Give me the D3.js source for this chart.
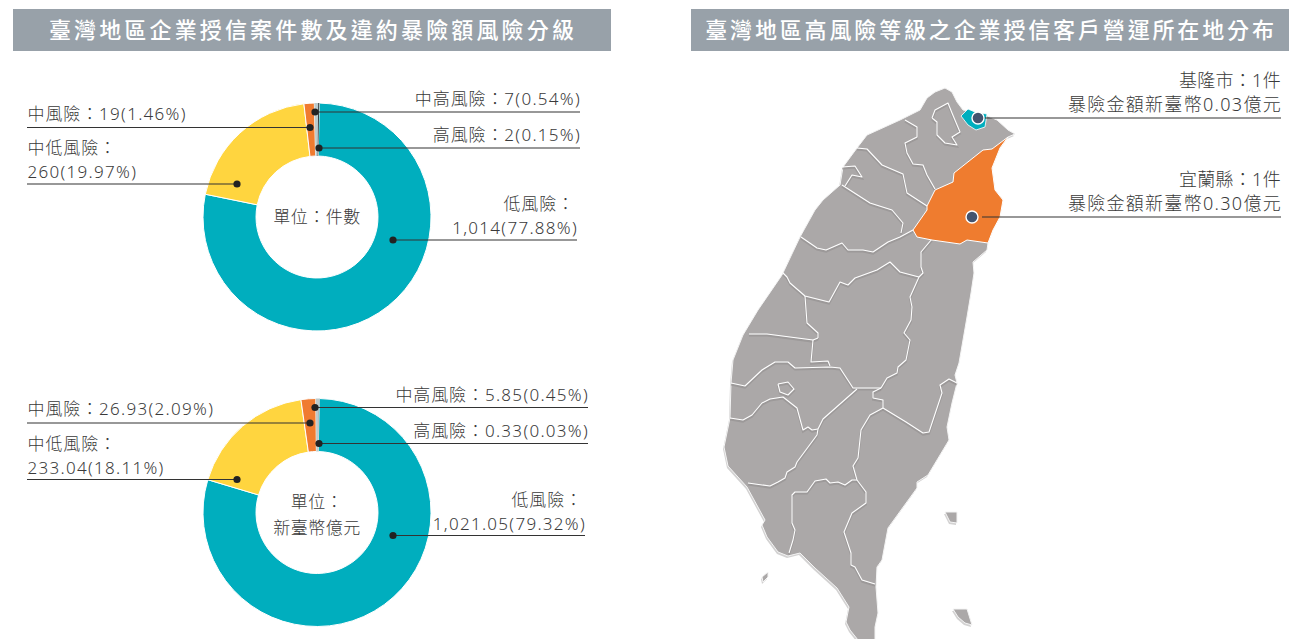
<!DOCTYPE html>
<html lang="zh-Hant">
<head>
<meta charset="utf-8">
<title>臺灣地區企業授信風險分級</title>
<script src="https://d3js.org/d3.v7.min.js"></script>
<style>
html, body { margin: 0; padding: 0; background: #fff; }
svg { display: block; font-family: "Noto Sans", "Noto Sans CJK TC", sans-serif; }
.lab { font-size: 17px; font-weight: 300; fill: #3a3a3a; letter-spacing: 0.9px; }
.lab .num { letter-spacing: 1.3px; }
.center { letter-spacing: 0.5px; }
.maplab { font-size: 18px; letter-spacing: 0.3px; }
.maplab2 { font-size: 18px; letter-spacing: 1.3px; }
.hdr { font-family: "Noto Sans CJK TC", sans-serif; font-size: 22px; font-weight: 500; fill: #fff; }
.leader { stroke: #333; stroke-width: 1.2; }
</style>
</head>
<body>
<div id="container"></div>
<script>
// values
var riskLevels = ["低風險", "中低風險", "中風險", "中高風險", "高風險"];
var riskColors = ["#00aebe", "#ffd53f", "#f07b30", "#bccbcd", "#2f3a3d"];
var caseCounts = [1014, 260, 19, 7, 2];
var casePercents = [77.88, 19.97, 1.46, 0.54, 0.15];
var exposureAmounts = [1021.05, 233.04, 26.93, 5.85, 0.33];
var exposurePercents = [79.32, 18.11, 2.09, 0.45, 0.03];

var titles = ["臺灣地區企業授信案件數及違約暴險額風險分級", "臺灣地區高風險等級之企業授信客戶營運所在地分布"];
var mapCounties = ["基隆市", "宜蘭縣"];
var mapCases = [1, 1];
var mapExposure = [0.03, 0.30];

// map outlines, traced in map grid units
var taiwanOutline = [[945,88],[952,92],[957,102],[963,110],[985,115],[997,120],[1008,130],[1015,134],[1008,137],[1000,148],[992,168],[995,190],[1003,200],[1000,217],[993,230],[988,243],[987,250],[973,262],[974,273],[971,293],[967,317],[963,340],[959,363],[955,375],[957,383],[952,403],[947,427],[949,440],[928,475],[917,482],[917,488],[888,528],[882,560],[877,567],[876,587],[878,613],[875,627],[875,645],[862,645],[850,630],[846,622],[849,607],[837,588],[815,568],[800,553],[788,556],[778,552],[767,537],[762,525],[765,520],[747,487],[728,466],[724,447],[730,418],[731,383],[733,360],[743,335],[758,310],[782,275],[800,237],[815,210],[823,200],[840,185],[843,167],[857,148],[867,135],[900,120],[920,110],[927,98],[935,92]];
var yilanOutline = [[1008,137],[1000,148],[992,168],[995,190],[1003,200],[1000,217],[993,230],[988,243],[967,240],[960,244],[932,240],[917,237],[913,230],[927,210],[927,206],[935,190],[953,182],[954,173],[983,150],[992,149]];
var keelungOutline = [[961,116],[968,109],[975,112],[987,114],[985,127],[976,130],[968,125]];
var countyBorders = [
  [[905,120],[917,127],[917,137],[905,143],[907,153],[913,164],[923,165],[927,175],[935,189]],
  [[857,148],[867,149],[882,165],[903,174],[907,193],[927,206]],
  [[842,167],[855,166],[862,177],[852,175],[845,186]],
  [[842,185],[870,203],[892,210],[903,223],[901,233]],
  [[801,237],[817,248],[826,250],[842,243],[848,250],[863,250],[873,252],[888,242],[900,237],[913,230]],
  [[932,239],[921,252],[921,267],[923,273],[919,277]],
  [[783,273],[787,277],[790,283],[805,296],[829,302],[840,282],[848,285],[855,278],[877,270],[890,262],[900,272],[919,277]],
  [[919,277],[910,297],[912,307],[911,320],[904,333],[910,340],[906,360],[898,367],[897,373],[887,378],[881,388]],
  [[805,296],[807,323],[818,333],[818,338]],
  [[749,334],[767,334],[813,340],[818,338]],
  [[813,340],[811,362],[828,361],[830,366]],
  [[731,383],[745,386],[762,370],[775,362],[788,362],[795,368],[830,367],[840,368],[853,388],[881,388]],
  [[881,388],[873,392],[873,398],[883,400],[883,408]],
  [[730,418],[743,420],[752,415],[762,403],[770,399],[783,397],[797,408],[803,430],[808,427],[812,430],[818,429]],
  [[778,384],[788,382],[794,389],[788,395],[780,392],[778,384]],
  [[857,389],[823,419],[818,429],[817,435],[797,462],[795,467],[787,472],[785,478],[778,482],[770,486],[748,483]],
  [[883,408],[870,415],[861,430],[858,458],[853,466],[857,480]],
  [[857,480],[852,480],[845,485],[838,482],[830,483],[826,479],[815,481],[807,492],[795,492],[792,495],[792,523],[795,530],[793,540],[789,553]],
  [[857,480],[866,492],[866,503],[852,513],[844,532],[851,553],[851,565],[855,567],[862,580],[875,584]],
  [[883,408],[906,422],[923,433],[929,432],[942,393],[940,385],[949,379],[957,383]],
  [[932,118],[935,110],[948,103],[952,113],[960,132],[952,137],[957,145],[945,143],[937,135],[937,122],[932,118]]
];
var islands = [
  [[945,512],[957,512],[957,523],[950,522]],
  [[953,609],[967,609],[972,625],[965,623],[958,617]],
  [[768,572],[768,577],[763,582],[762,577]]
];

var w = 1293, h = 639;
var svg = d3.select("#container").append("svg").attr("width", w).attr("height", h);

// header bars
var hdrX = [13, 691], hdrW = 598;
var hdrSpacing = [3.15, 2.85];
titles.forEach(function(t, i) {
  svg.append("rect").attr("x", hdrX[i]).attr("y", 9).attr("width", hdrW).attr("height", 42).attr("fill", "#98a1a9");
  svg.append("text").attr("class", "hdr").attr("x", hdrX[i] + hdrW / 2 + 1).attr("y", 38)
    .attr("text-anchor", "middle").style("letter-spacing", hdrSpacing[i] + "px").text(t);
});

// donuts
var pie = d3.pie().sort(null).startAngle(0.02).endAngle(Math.PI * 2 + 0.02);
var arc = d3.arc().innerRadius(61).outerRadius(114);

function donut(cy, values, valueText, percents, center, layout) {
  var g = svg.append("g").attr("transform", "translate(317," + cy + ")");
  g.selectAll("path").data(pie(values)).enter().append("path")
    .attr("d", arc)
    .attr("fill", function(d, i) { return riskColors[i]; })
    .attr("stroke", "#fff").attr("stroke-width", function(d, i) { return i > 2 ? 0 : 1; });

  center.forEach(function(t, i) {
    g.append("text").attr("class", "lab center").attr("text-anchor", "middle")
      .attr("x", 0).attr("y", center.length == 1 ? 6 : -5 + i * 26).text(t);
  });

  riskLevels.forEach(function(name, i) {
    var l = layout[i];
    var value = valueText[i] + "(" + percents[i].toFixed(2) + "%)";
    var y = l.dy + cy;
    svg.append("line").attr("class", "leader")
      .attr("x1", l.x1).attr("x2", l.x2).attr("y1", y).attr("y2", y);
    svg.append("circle").attr("cx", 317 + l.dx).attr("cy", y).attr("r", 3.6).attr("fill", "#222");
    var tx = l.anchor == "end" ? l.x2 + l.tx : l.x1 + 0.5;
    if (l.wrap) {
      svg.append("text").attr("class", "lab").attr("x", l.anchor == "end" ? l.x2 - 2 : tx)
        .attr("y", y - l.up - 24).attr("text-anchor", l.anchor).text(name + "：");
      svg.append("text").attr("class", "lab").attr("x", tx).attr("y", y - l.up)
        .attr("text-anchor", l.anchor).append("tspan").attr("class", "num").text(value);
    } else {
      var t = svg.append("text").attr("class", "lab").attr("x", tx).attr("y", y - l.up)
        .attr("text-anchor", l.anchor);
      t.append("tspan").text(name + "：");
      t.append("tspan").attr("class", "num").text(value);
    }
  });
}

var layoutTop = [
  { dx: 76, dy: 23, x1: 393, x2: 577, anchor: "end", wrap: true, tx: 1, up: 6 },
  { dx: -80, dy: -33, x1: 27, x2: 237, anchor: "start", wrap: true, up: 6 },
  { dx: -7, dy: -89.5, x1: 27, x2: 310, anchor: "start", up: 8 },
  { dx: -2, dy: -105, x1: 315, x2: 580, anchor: "end", tx: 1, up: 7 },
  { dx: 2, dy: -69, x1: 319, x2: 580, anchor: "end", tx: 1, up: 7 }
];
var layoutBottom = [
  { dx: 76, dy: 23, x1: 393, x2: 585, anchor: "end", wrap: true, tx: 1, up: 6 },
  { dx: -80, dy: -33, x1: 27, x2: 237, anchor: "start", wrap: true, up: 6 },
  { dx: -7, dy: -89.5, x1: 27, x2: 310, anchor: "start", up: 8 },
  { dx: -2, dy: -105, x1: 315, x2: 588, anchor: "end", tx: 1, up: 7 },
  { dx: 2, dy: -69, x1: 319, x2: 588, anchor: "end", tx: 1, up: 7 }
];

donut(217, caseCounts, caseCounts.map(d3.format(",")), casePercents, ["單位：件數"], layoutTop);
donut(512.5, exposureAmounts, exposureAmounts.map(d3.format(",.2f")), exposurePercents, ["單位：", "新臺幣億元"], layoutBottom);

// map
var xMap = d3.scaleLinear().domain([720, 1020]).range([720, 1020]);
var yMap = d3.scaleLinear().domain([80, 640]).range([80, 640]);
var mapLine = d3.line().x(function(d) { return xMap(d[0]); }).y(function(d) { return yMap(d[1]); });
var closedPath = function(p) { return mapLine(p) + "Z"; };

var mapG = svg.append("g");
[taiwanOutline].concat(islands).forEach(function(p) {
  mapG.append("path").attr("d", closedPath(p)).attr("fill", "#d3d2d2").attr("transform", "translate(-1,2)");
  mapG.append("path").attr("d", closedPath(p)).attr("fill", "#aba8a8").attr("stroke", "#f4f4f4").attr("stroke-width", 1);
});
countyBorders.forEach(function(p) {
  mapG.append("path").attr("d", mapLine(p)).attr("fill", "none").attr("stroke", "#8f8c8c")
    .attr("stroke-opacity", 0.55).attr("stroke-width", 2).attr("transform", "translate(0,1.6)");
  mapG.append("path").attr("d", mapLine(p)).attr("fill", "none").attr("stroke", "#fff")
    .attr("stroke-width", 1.1).attr("stroke-linejoin", "round");
});
mapG.append("path").attr("d", closedPath(yilanOutline)).attr("fill", "#ef7c2f").attr("stroke", "#fff").attr("stroke-width", 1);
mapG.append("path").attr("d", closedPath(keelungOutline)).attr("fill", "#00aebe").attr("stroke", "#fff").attr("stroke-width", 0.8);

var mapDotX = [978, 972], mapDotY = [118, 217], mapLineStart = [983, 982];
mapCounties.forEach(function(name, i) {
  svg.append("line").attr("class", "leader").attr("x1", mapLineStart[i]).attr("x2", 1281)
    .attr("y1", mapDotY[i]).attr("y2", mapDotY[i]);
  svg.append("circle").attr("cx", mapDotX[i]).attr("cy", mapDotY[i]).attr("r", 6)
    .attr("fill", "#44546f").attr("stroke", "#fff").attr("stroke-width", 1.4);
  svg.append("text").attr("class", "lab maplab").attr("x", 1281).attr("y", mapDotY[i] - 31)
    .attr("text-anchor", "end").text(name + "：" + mapCases[i] + "件");
  svg.append("text").attr("class", "lab maplab2").attr("x", 1282).attr("y", mapDotY[i] - 7)
    .attr("text-anchor", "end").text("暴險金額新臺幣" + mapExposure[i].toFixed(2) + "億元");
});
</script>
</body>
</html>
